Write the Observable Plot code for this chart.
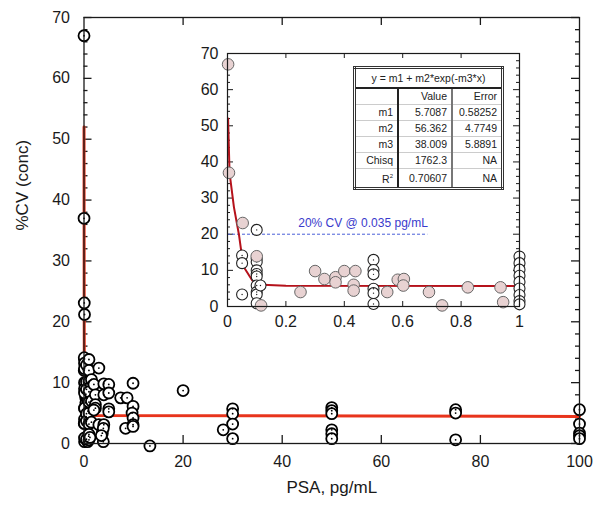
<!DOCTYPE html>
<html><head><meta charset="utf-8">
<script src="https://cdn.jsdelivr.net/npm/d3@7"></script>
<script src="https://cdn.jsdelivr.net/npm/@observablehq/plot@0.6"></script>
<style>
body{margin:0;background:#fff;}
#wrap{position:relative;width:600px;height:523px;font-family:"Liberation Sans",Arial,sans-serif;}
#wrap svg{position:absolute;overflow:visible;}
#tbl{position:absolute;left:353px;top:66px;width:151px;border-collapse:collapse;border:3px double #333;background:#fff;font-family:"Liberation Sans",Arial,sans-serif;font-size:10.5px;color:#222;box-sizing:border-box;}
#tbl td,#tbl th{padding:0 4px;text-align:right;border-bottom:1px solid #ccc;height:15px;line-height:15px;font-weight:normal;white-space:nowrap;}
#tbl th{text-align:center;height:18px;border-bottom:2px solid #222;}
#tbl td.c0{border-right:2px solid #222;width:33px;}
#tbl td.c1{border-right:2px solid #777;width:44px;}
#tbl tr:last-child td{height:18px;border-bottom:none;}
</style></head><body><div id="wrap"></div>
<script>
// ---- data ----
const insetPinkX = [0.002,0.005,0.052,0.10,0.115,0.25,0.30,0.332,0.37,0.37,0.40,0.438,0.432,0.432,0.547,0.583,0.604,0.602,0.69,0.735,0.823,0.935,0.944];
const insetPinkY = [67,37,23.1,13.9,0.3,4.0,9.8,7.6,8.1,6.7,9.8,9.8,6.0,4.4,4.0,7.4,7.6,5.8,4.0,0.3,5.3,5.3,1.2];
const insetWhiteX = [0.05,0.05,0.05,0.1,0.1,0.1,0.1,0.1,0.1,0.1,0.1,0.1,0.1,0.113,0.5,0.5,0.5,0.5,0.5,0.5,1,1,1,1,1,1,1,1,1];
const insetWhiteY = [14.1,12.0,3.3,21.2,13.2,12.3,10,9.0,8.3,5.8,4.0,3.3,0.9,5.8,12.9,10.1,8.9,4.9,3.7,0.7,13.8,12,10.2,8.5,6.8,5,3.2,1.5,0.6];
const mainExtraX = [1.2,1.5,1.5,1.5,2,2.3,2.3,2.3,2,3,3,3.7,3.9,4,4,4,3.9,3.5,5,5,5,5,7.4,8.7,8.4,9.9,9.9,9.7,9.9,9.9,9.9,13.3,20,28.1,30,30,30,30,50,50,50,50,50,50,75,75,75,100,100,100,100,100];
const mainExtraY = [1,10.5,7,3.5,9.7,8.0,6.4,5.8,5.5,12.4,3.1,1.7,0.3,9.8,8.0,3.1,2.5,1.3,9.7,8.3,5.7,5.2,7.5,7.5,2.5,9.9,6.1,5.0,4.2,3.1,2.8,-0.4,8.7,2.25,5.7,4.9,3.2,0.8,5.9,5.4,4.9,2.25,1.6,0.8,5.55,5.0,0.6,5.55,3.2,1.7,1.27,0.8];
const fitInsetX = [0.002,0.007,0.022,0.039,0.05,0.059,0.085,0.12,0.2,1];
const fitInsetY = [52,37,27.5,20,13.6,10.5,7.2,6.0,5.75,5.7];
const fitMainX = [0.005,0.04,0.08,0.15,1,100];
const fitMainY = [52,20,9,5.2,4.6,4.45];
const mainXTicks = [0,20,40,60,80,100];
const mainYTicks = [0,10,20,30,40,50,60,70];
const insetXTicks = [0,0.2,0.4,0.6,0.8,1];
const insetXLabels = ["0","0.2","0.4","0.6","0.8","1"];
const insetYTicks = [0,10,20,30,40,50,60,70];
const cvLevel = 20, cvLineEnd = 0.686, cvLabel = "20% CV @ 0.035 pg/mL";
const tableTitle = "y = m1 + m2*exp(-m3*x)";
const tableHead = ["", "Value", "Error"];
const paramNames = ["m1","m2","m3","Chisq","R<sup style='font-size:6px'>2</sup>"];
const paramValues = ["5.7087","56.362","38.009","1762.3","0.70607"];
const paramErrors = ["0.58252","4.7749","5.8891","NA","NA"];
const xLabel = "PSA, pg/mL", yLabel = "%CV (conc)";

// ---- build ----
const minor = (lo, hi, step, major) => d3.range(lo, hi + 1e-9, step).filter(v => Math.abs(v / major - Math.round(v / major)) > 1e-6);
const mainPts = [...insetPinkX.map((x,i)=>({x,y:insetPinkY[i]})), ...insetWhiteX.map((x,i)=>({x,y:insetWhiteY[i]})), ...mainExtraX.map((x,i)=>({x,y:mainExtraY[i]}))];
const fitMain = fitMainX.map((x,i)=>({x,y:fitMainY[i]}));
const fitInset = fitInsetX.map((x,i)=>({x,y:fitInsetY[i]}));
const pink = insetPinkX.map((x,i)=>({x,y:insetPinkY[i]}));
const white = insetWhiteX.map((x,i)=>({x,y:insetWhiteY[i]}));

const M = {l:83.5, r:21, t:17, b:80};
const FW = 600 - M.l - M.r, FH = 523 - M.t - M.b;
const font = "'Liberation Sans', Arial, sans-serif";
const ink = "#1a1a1a";
const main = Plot.plot({
  width: 600, height: 523,
  marginLeft: M.l, marginRight: M.r, marginTop: M.t, marginBottom: M.b,
  x: {domain: [0, 100]}, y: {domain: [0, 70]},
  style: {fontFamily: font, fontSize: "16px", color: ink, background: "transparent"},
  marks: [
    Plot.axisX(mainXTicks, {tickSize: 0, tickPadding: 12, label: null}),
    Plot.axisY(mainYTicks, {tickSize: 0, tickPadding: 14, label: null}),
    Plot.tickX(mainXTicks.slice(1, -1), {insetTop: FH - 8, stroke: ink, strokeWidth: 1.3}),
    Plot.tickX(mainXTicks.slice(1, -1), {insetBottom: FH - 8, stroke: ink, strokeWidth: 1.3}),
    Plot.tickY(mainYTicks, {insetRight: FW - 8, stroke: ink, strokeWidth: 1.3}),
    Plot.tickY(mainYTicks, {insetLeft: FW - 8, stroke: ink, strokeWidth: 1.3}),
    Plot.tickY(minor(0, 70, 2, 10), {insetRight: FW - 4, stroke: ink, strokeWidth: 1.3}),
    Plot.tickY(minor(0, 70, 2, 10), {insetLeft: FW - 4, stroke: ink, strokeWidth: 1.3}),
    Plot.line(fitMain, {x: "x", y: "y", stroke: "#e8341c", strokeWidth: 3}),
    Plot.dot(mainPts, {x: "x", y: "y", r: 5.5, fill: "white", stroke: "black", strokeWidth: 1.8}),
    Plot.dot(mainPts, {x: "x", y: "y", r: 0.9, fill: "black"}),
    Plot.frame({stroke: ink, strokeWidth: 1.3}),
    Plot.text([yLabel], {frameAnchor: "left", dx: -61, rotate: -90, fontSize: 17, fill: ink}),
    Plot.text([xLabel], {frameAnchor: "bottom", dy: 49, fontSize: 17, fill: ink})
  ]
});
main.style.left = "0px"; main.style.top = "0px";

const I = {left: 190, top: 35, l: 37, r: 11, t: 18, b: 26, w: 340, h: 297};
const IW = I.w - I.l - I.r, IH = I.h - I.t - I.b;
const inset = Plot.plot({
  width: I.w, height: I.h,
  marginLeft: I.l, marginRight: I.r, marginTop: I.t, marginBottom: I.b,
  x: {domain: [0, 1]}, y: {domain: [0, 70]},
  style: {fontFamily: font, fontSize: "16px", color: ink, background: "white"},
  marks: [
    Plot.axisX(insetXTicks, {tickSize: 0, tickPadding: 9, label: null, tickFormat: d => insetXLabels[insetXTicks.indexOf(d)]}),
    Plot.axisY(insetYTicks, {tickSize: 0, tickPadding: 9, label: null}),
    Plot.tickX(insetXTicks.slice(1, -1), {insetTop: IH - 5, stroke: ink}),
    Plot.tickX(insetXTicks.slice(1, -1), {insetBottom: IH - 5, stroke: ink}),
    Plot.tickY(insetYTicks, {insetRight: IW - 6, stroke: ink}),
    Plot.tickY(insetYTicks, {insetLeft: IW - 6, stroke: ink}),
    Plot.tickY(minor(0, 70, 2, 10), {insetRight: IW - 3, stroke: ink}),
    Plot.tickY(minor(0, 70, 2, 10), {insetLeft: IW - 3, stroke: ink}),
    Plot.ruleY([cvLevel], {x1: 0, x2: cvLineEnd, stroke: "#4a5fd8", strokeWidth: 1, strokeDasharray: "3,2"}),
    Plot.text([cvLabel], {x: cvLineEnd, y: cvLevel, textAnchor: "end", dy: -11, fill: "#3a3acc", fontSize: 12}),
    Plot.line(fitInset, {x: "x", y: "y", stroke: "#b5121b", strokeWidth: 2}),
    Plot.dot(white, {x: "x", y: "y", r: 5.5, fill: "white", stroke: "#222", strokeWidth: 1.1}),
    Plot.dot(white, {x: "x", y: "y", r: 0.7, fill: "#222"}),
    Plot.dot(pink, {x: "x", y: "y", r: 5.8, fill: "#e8d2d2", stroke: "#666", strokeWidth: 1}),
    Plot.frame({stroke: ink, strokeWidth: 1.2})
  ]
});
inset.style.left = I.left + "px"; inset.style.top = I.top + "px";

const wrap = document.getElementById("wrap");
wrap.appendChild(main);
wrap.appendChild(inset);

let html = `<tr><th colspan="3">${tableTitle}</th></tr>`;
html += `<tr>${tableHead.map((h,j)=>`<td class="c${j}">${h}</td>`).join("")}</tr>`;
paramNames.forEach((n,i)=>{ html += `<tr><td class="c0">${n}</td><td class="c1">${paramValues[i]}</td><td class="c2">${paramErrors[i]}</td></tr>`; });
const tbl = document.createElement("table");
tbl.id = "tbl"; tbl.innerHTML = html;
wrap.appendChild(tbl);
</script>
</body></html>
